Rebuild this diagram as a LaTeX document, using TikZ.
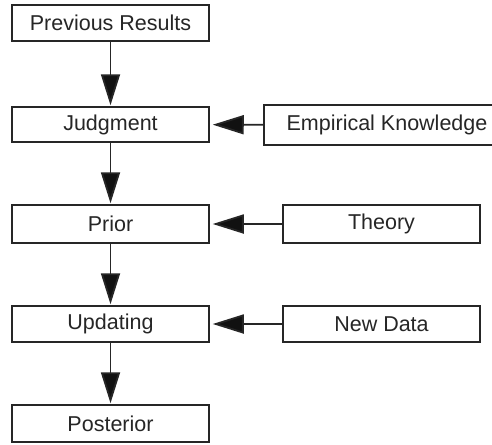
\documentclass[tikz,border=0pt]{standalone}
\usepackage{fontspec}
\setmainfont{Liberation Sans}
\usetikzlibrary{arrows.meta}
\definecolor{ink}{HTML}{262626}
\definecolor{tip}{HTML}{111111}
\begin{document}
\begin{tikzpicture}[x=1pt,y=-1pt,
  box/.style={draw=ink, line width=1.5pt, rectangle, inner sep=0pt,
    text=ink, font=\fontsize{21.5}{24}\selectfont},
  flow/.style={draw=ink, line width=1.8pt,
    -{Triangle[length=31pt,width=19pt,fill=tip]}, shorten >=1pt}
]
\clip (0,0) rectangle (492,444);
\fill[white] (0,0) rectangle (492,444);
% main chain
\node[box, minimum width=197pt, minimum height=36pt] (prev)  at (110.5,23)  {Previous Results};
\node[box, minimum width=197pt, minimum height=35pt] (judg)  at (110.5,124.5) {Judgment};
\node[box, minimum width=197pt, minimum height=38pt] (prior) at (110.5,224)  {Prior};
\node[box, minimum width=197pt, minimum height=36pt] (upd)   at (110.5,324)  {Updating};
\node[box, minimum width=197pt, minimum height=37pt] (post)  at (110.5,423.5) {Posterior};
% side inputs
\node[box, minimum width=246pt, minimum height=40pt] (emp)   at (387,125)   {Empirical Knowledge};
\node[box, minimum width=197pt, minimum height=38pt] (theo)  at (381.5,224) {Theory};
\node[box, minimum width=197pt, minimum height=36pt] (data)  at (381.5,324) {New Data};
% connectors
\draw[flow] (prev) -- (judg);
\draw[flow] (judg) -- (prior);
\draw[flow] (prior) -- (upd);
\draw[flow] (upd) -- (post);
\draw[flow, shorten >=3pt] (emp) -- (judg);
\draw[flow, shorten >=3pt] (theo) -- (prior);
\draw[flow, shorten >=3pt] (data) -- (upd);
\end{tikzpicture}
\end{document}
